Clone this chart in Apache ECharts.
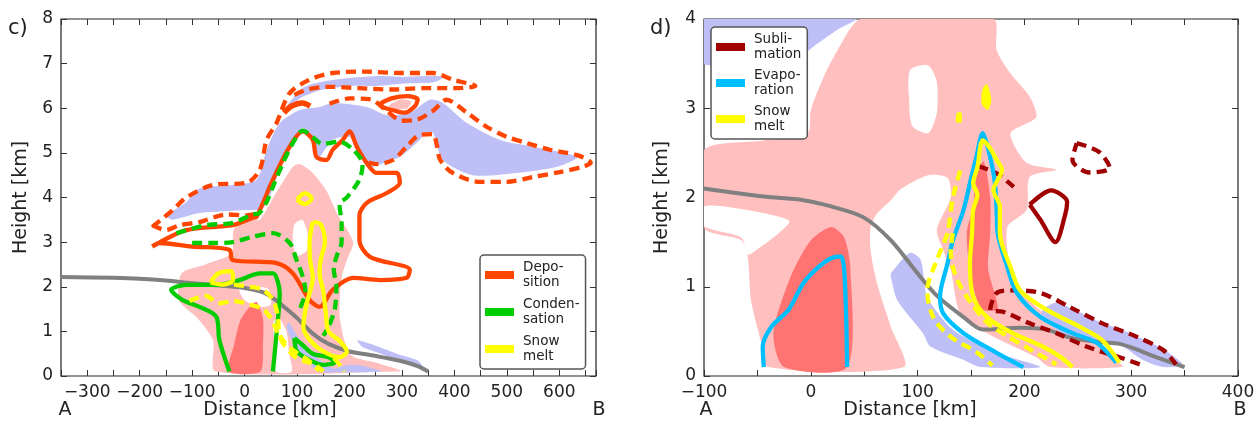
<!DOCTYPE html>
<html><head><meta charset="utf-8">
<script src="https://cdn.jsdelivr.net/npm/echarts@6/dist/echarts.min.js"></script>
<style>html,body{margin:0;padding:0;background:#fff}#c{width:1258px;height:421px}</style>
</head><body><div id="c"></div>
<script>
// ---------- Panel c) data (x: km, y: km) ----------
const cTerrain = [[-350,2.22],[-250,2.2],[-200,2.18],[-150,2.14],[-100,2.08],[-50,2.03],[0,1.97],[40,1.85],[70,1.6],[100,1.3],[130,0.95],[160,0.72],[200,0.55],[250,0.45],[300,0.33],[330,0.22],[350,0.1]];
const cPink = [[-55,0.1],[-60,0.8],[-90,1.3],[-125,1.7],[-120,2.3],[-75,2.5],[-25,2.75],[-20,3.3],[15,3.5],[29,3.5],[60,4.1],[92,4.69],[105,4.75],[130,4.55],[156,4.15],[178,3.6],[207,3.0],[195,2.6],[185,2.2],[181,1.4],[190,0.8],[205,0.45],[250,0.3],[296,0.13],[296,0.1]];
const cPinkSmall = [[275,6.05],[298,6.2],[318,6.15],[310,6.0],[290,5.98]];
const cRed = [[-30,0.1],[-20,0.7],[-8,1.25],[10,1.55],[23,1.66],[35,1.3],[35,0.7],[30,0.1]];
const cWhite1 = [[95,3.4],[110,3.5],[120,3.2],[118,2.8],[100,2.7],[92,3.0]];
const cWhite2 = [[-10,1.95],[20,2.0],[45,1.95],[50,1.6],[30,1.55],[0,1.7]];
const cWhite3 = [[55,1.2],[65,1.3],[80,1.0],[85,0.5],[90,0.1],[60,0.1],[58,0.6]];
const cLavBand = [[-130,3.75],[-111,3.9],[-86,4.2],[-23,4.28],[23,4.4],[42,5.07],[67,5.67],[105,5.96],[143,6.03],[168,6.12],[233,6.03],[271,5.85],[315,5.9],[353,6.19],[378,6.12],[424,5.67],[487,5.29],[550,5.14],[634,4.91],[596,4.69],[519,4.55],[435,4.5],[378,4.84],[359,5.45],[347,5.45],[328,5.22],[296,4.91],[264,4.77],[239,4.69],[219,5.07],[200,5.36],[168,5.29],[137,4.84],[128,5.3],[111,5.55],[92,5.25],[75,4.9],[54,4.2],[35,3.75],[4,3.72],[-86,3.65],[-137,3.5],[-150,3.6]];
const cLavTop = [[75,5.95],[110,6.45],[150,6.6],[200,6.68],[260,6.72],[300,6.7],[350,6.72],[380,6.7],[360,6.58],[300,6.55],[250,6.5],[200,6.5],[150,6.42],[110,6.25]];
const cLavLow1 = [[85,1.2],[95,1.0],[120,0.6],[150,0.3],[175,0.1],[140,0.1],[110,0.45],[90,0.8],[80,1.1]];
const cLavLow2 = [[215,0.8],[240,0.72],[290,0.5],[330,0.35],[340,0.2],[300,0.3],[260,0.5],[225,0.65]];
const cLavLow3 = [[160,0.1],[200,0.25],[230,0.22],[260,0.1]];
const cDepSolid = [[-176,2.9],[-111,3.27],[-23,3.38],[15,3.54],[23,3.57],[54,4.4],[86,5.14],[111,5.48],[130,5.29],[137,4.91],[156,4.84],[168,5.07],[187,5.29],[200,5.48],[214,5.14],[233,4.77],[252,4.55],[290,4.55],[296,4.33],[271,4.1],[233,3.88],[219,3.6],[219,3.05],[239,2.67],[315,2.38],[309,2.2],[258,2.15],[207,2.2],[168,1.93],[143,1.55],[124,1.7],[92,2.3],[61,2.53],[-23,2.6],[-29,2.83],[-100,2.9],[-162,2.98],[-176,2.9]];
const cDepLoop = [[258,6.1],[280,6.22],[310,6.27],[330,6.2],[325,6.05],[305,5.9],[285,5.95],[265,6.02],[258,6.1]];
const cDepBlob = [[75,5.9],[90,6.05],[110,6.12],[125,6.05]];
const cDepDashA = [[-176,3.34],[-137,3.72],[-111,4.0],[-61,4.28],[4,4.33],[29,4.62],[42,5.29],[61,5.67],[86,6.34],[124,6.64],[168,6.79],[233,6.82],[296,6.79],[359,6.79],[397,6.64],[440,6.5],[400,6.45],[340,6.45],[280,6.42],[220,6.45],[160,6.48],[120,6.42],[95,6.3]];
const cDepDashB = [[162,6.1],[200,6.22],[240,6.2],[270,5.95],[300,5.72],[330,5.75],[360,5.95],[385,6.19],[424,5.9],[462,5.58],[500,5.36],[538,5.22],[582,5.07],[634,4.95],[660,4.78],[645,4.69],[601,4.57],[550,4.46],[500,4.35],[449,4.35],[397,4.55],[373,4.84],[366,5.2],[359,5.42],[334,5.4],[309,5.14],[283,4.84],[252,4.75],[232,4.8]];
const cDepDashC = [[-176,3.38],[-150,3.27],[-124,3.38],[-86,3.45],[-34,3.62],[4,3.6],[25,3.65]];
const cConSolid1 = [[-29,0.1],[-48,0.8],[-54,1.33],[-86,1.55],[-118,1.7],[-140,1.93],[-111,2.04],[-54,2.04],[-10,2.15],[29,2.3],[54,2.3],[67,1.85],[61,0.96],[54,0.1]];
const cConSolid2 = [[95,0.85],[100,0.55],[125,0.35],[150,0.25],[172,0.3],[160,0.42],[130,0.5],[110,0.7],[95,0.85]];
const cConDash1 = [[-130,3.2],[-73,3.38],[-23,3.43],[15,3.62],[28,3.65],[42,3.9],[54,4.24],[73,4.77],[92,5.22],[111,5.5],[130,5.35],[149,5.2],[181,5.25],[207,5.07],[225,4.75],[219,4.4],[195,4.0],[181,3.85],[185,3.4],[185,3.0],[176,2.7],[170,2.4],[175,2.0],[172,1.5],[160,1.1],[150,0.9]];
const cConDash2 = [[-100,2.98],[-67,2.98],[-23,3.0],[15,3.12],[54,3.2],[86,2.98],[99,2.6],[111,2.22],[116,1.9],[105,1.5]];
const cMeltSolid1 = [[-65,2.1],[-50,2.3],[-25,2.35],[-22,2.15],[-40,2.05],[-65,2.1]];
const cMeltSolid2 = [[100,3.95],[115,4.1],[128,3.98],[115,3.85],[100,3.95]];
const cMeltSolid3 = [[130,3.45],[145,3.4],[153,3.0],[145,2.6],[143,2.3],[150,1.9],[155,1.4],[160,1.0],[180,0.8],[195,0.55],[180,0.42],[150,0.55],[125,0.8],[112,1.1],[118,1.6],[130,2.2],[125,2.6],[124,3.0],[130,3.45]];
const cMeltDash1 = [[-105,1.68],[-75,1.8],[-48,1.63],[-20,1.68],[10,1.6],[35,1.5],[50,1.3],[60,1.05],[75,0.7],[100,0.4],[135,0.25],[150,0.1]];
const cMeltDash2 = [[-20,2.05],[10,2.0],[35,1.93],[55,1.7],[63,1.35],[68,0.9],[90,0.6],[118,0.38],[143,0.12]];
const cMeltDash3 = [[170,0.4],[185,0.2],[190,0.1]];

// ---------- Panel d) data ----------
const dTerrain = [[-100,2.1],[-44,2.01],[-7,1.97],[19,1.9],[49,1.78],[75,1.52],[100,1.15],[118,0.9],[143,0.66],[161,0.52],[196,0.54],[221,0.52],[243,0.43],[270,0.38],[289,0.36],[300,0.32],[324,0.21],[350,0.1]];
const dPink = [[-100,2.53],[-44,2.64],[-3,2.72],[0,2.98],[12,3.35],[25,3.65],[47,4.0],[171,4.0],[174,3.65],[187,3.39],[205,3.13],[211,2.9],[187,2.72],[202,2.39],[230,2.31],[205,2.23],[202,1.86],[184,1.67],[187,1.22],[205,0.85],[236,0.55],[268,0.37],[286,0.18],[292,0.1],[224,0.1],[211,0.21],[165,0.48],[140,0.7],[131,1.19],[124,1.41],[118,1.64],[131,2.0],[128,2.22],[110,2.25],[85,2.1],[75,1.97],[62,1.82],[56,1.67],[56,1.41],[62,1.04],[75,0.55],[87,0.1],[-40,0.1],[-47,0.4],[-56,0.85],[-59,1.33],[-65,1.52],[-100,1.66]];
const dWhite1 = [[-100,1.9],[-60,1.86],[-20,1.74],[-30,1.6],[-50,1.42],[-59,1.36],[-65,1.55],[-100,1.68]];
const dWhite2 = [[93,3.43],[110,3.48],[118,3.3],[118,2.95],[110,2.72],[95,2.8],[92,3.1]];
const dRed1 = [[-25,0.1],[-35,0.48],[-19,1.11],[0,1.52],[19,1.67],[31,1.56],[37,1.22],[34,0.1]];
const dRed2 = [[155,2.3],[162,2.4],[168,2.0],[168,1.6],[166,1.2],[175,0.75],[160,0.75],[150,1.1],[146,1.6],[152,1.9],[155,2.3]];
const dLavTop = [[-100,4],[-100,3.5],[-75,3.52],[-40,3.53],[-12,3.57],[7,3.73],[25,3.88],[42,4.0]];
const dLav1 = [[75,1.15],[93,1.38],[103,1.3],[109,0.89],[133,0.52],[174,0.26],[215,0.1],[159,0.1],[143,0.18],[112,0.33],[105,0.48],[81,0.85],[75,1.11]];
const dLav2 = [[217,0.74],[230,0.82],[268,0.62],[299,0.48],[330,0.3],[348,0.13],[330,0.1],[311,0.18],[286,0.37],[243,0.44],[217,0.64]];
const dEvap1 = [[-44,0.1],[-45,0.33],[-37,0.55],[-21,0.74],[-7,1.04],[7,1.22],[19,1.32],[28,1.34],[31,1.22],[33,0.7],[34,0.1]];
const dEvap2 = [[199,0.1],[174,0.26],[143,0.48],[124,0.7],[121,0.89],[128,1.26],[133,1.52],[143,1.86],[149,2.16],[155,2.45],[161,2.72],[166,2.55],[172,2.2],[174,1.86],[175,1.6],[184,1.22],[193,0.93],[215,0.66],[245,0.48],[268,0.37],[286,0.15]];
const dMeltSolid = [[245,0.1],[233,0.22],[217,0.33],[189,0.48],[165,0.66],[152,0.89],[149,1.26],[151,1.6],[152,1.86],[156,2.03],[152,2.16],[156,2.34],[161,2.64],[168,2.55],[174,2.42],[179,2.31],[171,2.08],[177,1.9],[177,1.6],[187,1.22],[196,0.96],[221,0.74],[252,0.55],[273,0.4],[289,0.15]];
const dMeltBlob1 = [[160,3.05],[161,3.22],[165,3.27],[169,3.1],[166,2.98]];
const dMeltBlob2 = [[136,2.85],[137,2.95],[141,2.95],[141,2.84]];
const dMeltDash1 = [[140,2.3],[133,2.0],[128,1.6],[118,1.3],[109,0.96],[115,0.65],[131,0.44],[156,0.26],[170,0.12]];
const dMeltDash2 = [[133,1.6],[131,1.38],[137,1.08],[150,0.82],[165,0.6],[185,0.44],[205,0.3],[230,0.13]];
const dSubSolid = [[205,1.92],[225,2.08],[240,1.95],[238,1.8],[229,1.5],[215,1.75],[205,1.92]];
const dSubDash1 = [[249,2.61],[270,2.51],[280,2.33],[261,2.28],[245,2.42],[249,2.61]];
const dSubDash2 = [[308,0.13],[289,0.21],[258,0.33],[230,0.48],[205,0.59],[180,0.72],[168,0.74],[174,0.93],[189,0.96],[215,0.93],[243,0.77],[273,0.59],[305,0.44],[330,0.29],[342,0.13]];
const dSubDash3 = [[157,2.35],[174,2.27],[190,2.12]];

// tick labels
const cXTicks = [-300,-200,-100,0,100,200,300,400,500,600];
const dXTicks = [-100,0,100,200,300,400];

// ---------- styling ----------
const PINK='#ffbfbf', RED='#ff7373', LAV='#bfbff7', WHITE='#ffffff';
const ORANGE='#ff4500', GREEN='#00cc00', YELLOW='#ffff00', BLUE='#00bfff', DRED='#a00000', GRAY='#808080';
const FONT='DejaVu Sans';
const fmt = v => v < 0 ? '\u2212' + (-v) : String(v);

function fill(poly, color, ax, z) {
  return {type:'custom', xAxisIndex:ax, yAxisIndex:ax, data:poly, silent:true, clip:true, z:z||1, animation:false,
    renderItem:(params, api) => params.dataIndex === 0 ? {type:'polygon', shape:{points: poly.map(p => api.coord(p)), smooth:0.25}, style:{fill:color}} : null};
}
function line(data, color, dashed, ax, name, w) {
  return {type:'line', name:name, xAxisIndex:ax, yAxisIndex:ax, data:data, showSymbol:false, symbol:'none', smooth:0.3, silent:true, animation:false, z:5,
    lineStyle:{color:color, width:w||4.3, type: dashed ? [10,6] : 'solid', cap:'butt', join:'round'}, itemStyle:{color:color}};
}

function xAx(grid, min, max, ticks, top) {
  return {type:'value', gridIndex:grid, min:min, max:max, interval:50, position: top?'top':'bottom',
    axisLine:{show:false, onZero:false}, splitLine:{show:false},
    axisTick:{show:true, inside:true, length:6, lineStyle:{color:'#333', width:1}},
    axisLabel:{show:!top, margin:8, fontSize:17, fontFamily:FONT, color:'#222', showMaxLabel:true, showMinLabel:true,
      formatter: v => ticks.indexOf(v) >= 0 ? fmt(v) : ''}};
}
function yAx(grid, max, right, gap) {
  return {type:'value', gridIndex:grid, min:0, max:max, interval:1, position: right?'right':'left',
    axisLine:{show:false, onZero:false}, splitLine:{show:false},
    axisTick:{show:true, inside:true, length:6, lineStyle:{color:'#333', width:1}},
    axisLabel:{show:!right, margin:8, fontSize:17, fontFamily:FONT, color:'#222'},
    name: right ? '' : 'Height [km]', nameLocation:'middle', nameGap:gap, nameRotate:90,
    nameTextStyle:{fontSize:19, fontFamily:FONT, color:'#222'}};
}

const series = [
  // panel c fills
  fill(cPink, PINK, 0, 1), fill(cPinkSmall, PINK, 0, 1), fill(cWhite1, WHITE, 0, 2), fill(cWhite2, WHITE, 0, 2), fill(cWhite3, WHITE, 0, 2),
  fill(cRed, RED, 0, 3), fill(cLavBand, LAV, 0, 3), fill(cLavTop, LAV, 0, 3),
  fill(cLavLow1, LAV, 0, 3), fill(cLavLow2, LAV, 0, 3), fill(cLavLow3, LAV, 0, 3),
  line(cTerrain, GRAY, false, 0, null, 4),
  line(cDepDashA, ORANGE, true, 0), line(cDepDashB, ORANGE, true, 0), line(cDepDashC, ORANGE, true, 0),
  line(cDepSolid, ORANGE, false, 0, 'Deposition'), line(cDepLoop, ORANGE, false, 0), line(cDepBlob, ORANGE, false, 0, null, 5.5),
  line(cConDash1, GREEN, true, 0), line(cConDash2, GREEN, true, 0),
  line(cConSolid1, GREEN, false, 0, 'Condensation'), line(cConSolid2, GREEN, false, 0),
  line(cMeltDash1, YELLOW, true, 0), line(cMeltDash2, YELLOW, true, 0), line(cMeltDash3, YELLOW, true, 0),
  line(cMeltSolid1, YELLOW, false, 0, 'Snow melt c'), line(cMeltSolid2, YELLOW, false, 0), line(cMeltSolid3, YELLOW, false, 0),
  // panel d fills
  fill(dPink, PINK, 2, 1), fill(dWhite1, WHITE, 2, 2), fill(dWhite2, WHITE, 2, 2),
  fill(dRed1, RED, 2, 3), fill(dRed2, RED, 2, 3), fill(dLavTop, LAV, 2, 3), fill(dLav1, LAV, 2, 3), fill(dLav2, LAV, 2, 3),
  fill(dMeltBlob1, YELLOW, 2, 6), fill(dMeltBlob2, YELLOW, 2, 6),
  line(dTerrain, GRAY, false, 2, null, 4),
  line(dSubSolid, DRED, false, 2, 'Sublimation'), line(dSubDash1, DRED, true, 2), line(dSubDash2, DRED, true, 2), line(dSubDash3, DRED, true, 2),
  line(dEvap1, BLUE, false, 2, 'Evaporation'), line(dEvap2, BLUE, false, 2),
  line(dMeltDash1, YELLOW, true, 2), line(dMeltDash2, YELLOW, true, 2),
  line(dMeltSolid, YELLOW, false, 2, 'Snow melt d')
];

const legendNames = {'Deposition':'Depo-\nsition','Condensation':'Conden-\nsation','Snow melt c':'Snow\nmelt',
  'Sublimation':'Subli-\nmation','Evaporation':'Evapo-\nration','Snow melt d':'Snow\nmelt'};
function legend(left, top, items, gap) {
  return {left:left, top:top, orient:'vertical', selectedMode:false, icon:'rect', itemWidth:29, itemHeight:8, itemGap:gap,
    padding:[5,6,5,5], backgroundColor:'#fff', borderColor:'#555', borderWidth:1.5, borderRadius:4,
    textStyle:{fontSize:13.5, fontFamily:FONT, color:'#222', lineHeight:15, padding:[0,0,0,4]},
    formatter: n => legendNames[n],
    data: items.map(it => ({name:it[0], icon:'rect', itemStyle:{color:it[1], borderWidth:0}, lineStyle:{opacity:0}}))};
}

const option = {
  animation:false,
  backgroundColor:'#fff',
  grid:[
    {left:61, top:19, width:535, height:357, show:true, borderColor:'#222', borderWidth:1.2, backgroundColor:'transparent'},
    {left:704, top:19, width:534, height:357, show:true, borderColor:'#222', borderWidth:1.2, backgroundColor:'transparent'}
  ],
  xAxis:[ xAx(0,-350,670,cXTicks,false), xAx(0,-350,670,cXTicks,true), xAx(1,-100,400,dXTicks,false), xAx(1,-100,400,dXTicks,true) ],
  yAxis:[ yAx(0,8,false,30), yAx(0,8,true,0), yAx(1,4,false,32), yAx(1,4,true,0) ],
  legend:[
    legend(480, 255, [['Deposition',ORANGE],['Condensation',GREEN],['Snow melt c',YELLOW]], 7),
    legend(711, 27, [['Sublimation',DRED],['Evaporation',BLUE],['Snow melt d',YELLOW]], 6)
  ],
  graphic:[
    {type:'text', left:8, top:18, style:{text:'c)', fontSize:21, fontFamily:FONT, fill:'#222'}},
    {type:'text', left:650, top:18, style:{text:'d)', fontSize:21, fontFamily:FONT, fill:'#222'}},
    {type:'text', x:65, y:410, style:{text:'A', fontSize:19, fontFamily:FONT, fill:'#222', align:'center', verticalAlign:'middle'}},
    {type:'text', x:599, y:410, style:{text:'B', fontSize:19, fontFamily:FONT, fill:'#222', align:'center', verticalAlign:'middle'}},
    {type:'text', x:270, y:410, style:{text:'Distance [km]', fontSize:19, fontFamily:FONT, fill:'#222', align:'center', verticalAlign:'middle'}},
    {type:'text', x:706, y:410, style:{text:'A', fontSize:19, fontFamily:FONT, fill:'#222', align:'center', verticalAlign:'middle'}},
    {type:'text', x:1240, y:410, style:{text:'B', fontSize:19, fontFamily:FONT, fill:'#222', align:'center', verticalAlign:'middle'}},
    {type:'text', x:910, y:410, style:{text:'Distance [km]', fontSize:19, fontFamily:FONT, fill:'#222', align:'center', verticalAlign:'middle'}}
  ],
  series: series
};
const chart = echarts.init(document.getElementById('c'), null, {renderer:'canvas'});
chart.setOption(option);
</script></body></html>
